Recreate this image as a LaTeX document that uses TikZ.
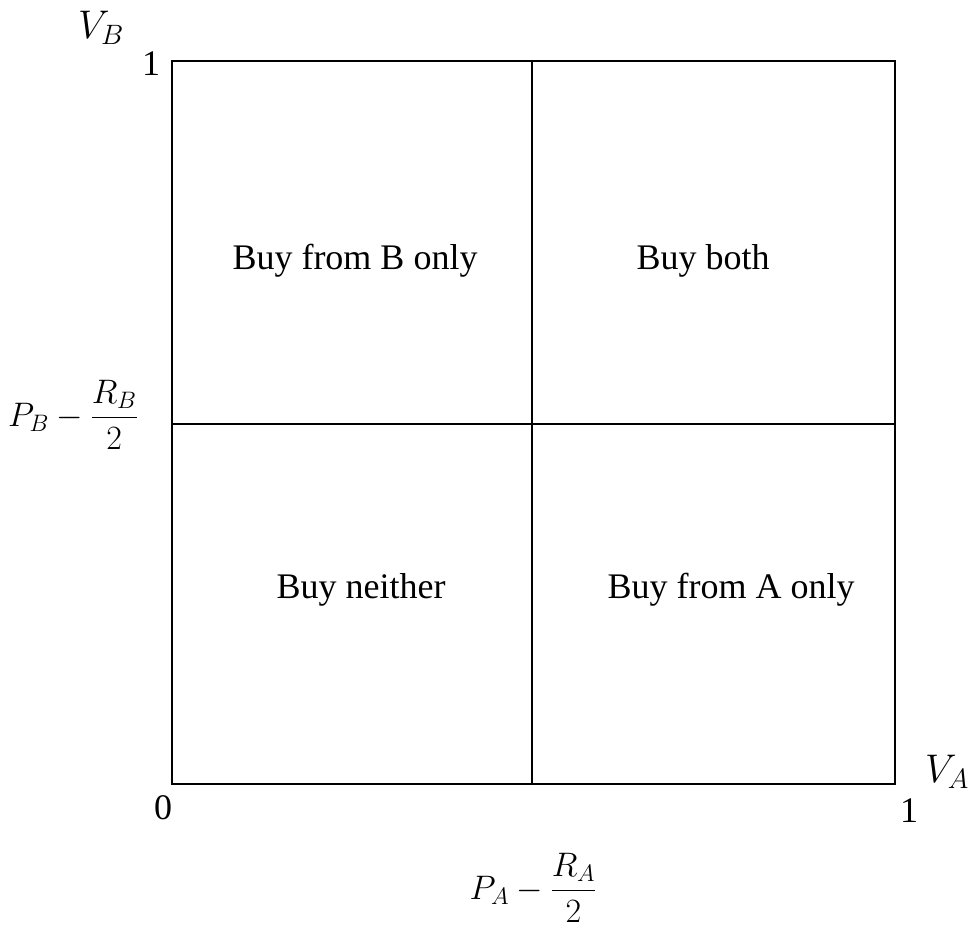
\documentclass[tikz,border=0pt]{standalone}
\usepackage{fix-cm}
\usepackage{amsmath}
\usepackage{fontspec}
\setmainfont{Liberation Serif}
\begin{document}
\begin{tikzpicture}[x=1pt,y=-1pt,
  box/.style={line width=1.8pt},
  lbl/.style={font=\fontsize{36}{43}\selectfont, inner sep=0pt},
  mlbl/.style={font=\fontsize{40}{48}\selectfont, inner sep=0pt},
  flbl/.style={font=\fontsize{34}{40}\selectfont, inner sep=0pt}]
\useasboundingbox (0,0) rectangle (971,928);
\coordinate (bl) at (172,784);
\coordinate (tr) at (895,61);
\coordinate (mt) at (532,61);
\coordinate (mb) at (532,784);
\coordinate (ml) at (172,424);
\coordinate (mr) at (895,424);
\draw[box] (bl) rectangle (tr);
\draw[box] (mt) -- (mb);
\draw[box] (ml) -- (mr);
\node[lbl] (tbo) at (355,261) {Buy from B only};
\node[lbl] (tbb) at (703,261) {Buy both};
\node[lbl] (tbn) at (361,590) {Buy neither};
\node[lbl] (tba) at (731,590) {Buy from A only};
\node[lbl] (one1) at (151,64) {1};
\node[lbl] (zero) at (163,808) {0};
\node[lbl] (one2) at (909,811) {1};
\node[mlbl] (vb) at (101,28) {$V_B$};
\node[mlbl] (va) at (947,772) {$V_A$};
\node[flbl] (pb) at (73,415) {$P_B-\dfrac{R_B}{2}$};
\node[flbl] (pa) at (533,888) {$P_A-\dfrac{R_A}{2}$};
\end{tikzpicture}
\end{document}
